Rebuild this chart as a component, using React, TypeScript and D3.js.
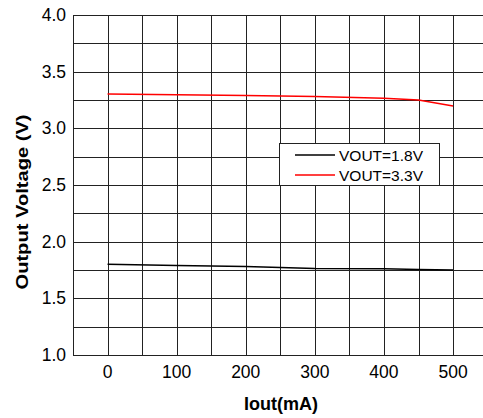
import * as d3 from 'd3';

const currents = [0, 100, 200, 300, 400, 450, 500];
const vout18 = [1.8, 1.79, 1.78, 1.763, 1.76, 1.755, 1.75];
const vout33 = [3.303, 3.297, 3.29, 3.28, 3.265, 3.25, 3.197];
const xTicks = [0, 100, 200, 300, 400, 500];
const yTicks = [1.0, 1.5, 2.0, 2.5, 3.0, 3.5, 4.0];
const seriesNames = ['VOUT=1.8V', 'VOUT=3.3V'];
const seriesColors = ['#000000', '#ff0000'];

export default function App() {
  const W = 483;
  const H = 418;
  const left = 73;
  const top = 15;
  const bottom = 355;
  const x = d3.scaleLinear().domain([-50, 550]).range([left, left + 414.6]);
  const y = d3.scaleLinear().domain([1, 4]).range([bottom, top]);
  const xGrid = d3.range(-50, 551, 50);
  const yGrid = d3.range(1, 4.001, 0.25);
  const line = d3
    .line<[number, number]>()
    .x((d) => x(d[0]))
    .y((d) => y(d[1]));
  const series = [vout18, vout33];
  const font = '"Liberation Sans", Arial, sans-serif';

  return (
    <svg
      width={W}
      height={H}
      style={{ position: 'absolute', left: 0, top: 0 }}
      fontFamily={font}
    >
      <rect width={W} height={H} fill="#fff" />
      {xGrid.map((v) => (
        <line
          key={'xg' + v}
          x1={Math.round(x(v)) + 0.5}
          x2={Math.round(x(v)) + 0.5}
          y1={top}
          y2={bottom}
          stroke="#222"
          strokeWidth={1}
        />
      ))}
      {yGrid.map((v) => (
        <line
          key={'yg' + v}
          x1={left}
          x2={W}
          y1={Math.round(y(v)) + 0.5}
          y2={Math.round(y(v)) + 0.5}
          stroke="#222"
          strokeWidth={1}
        />
      ))}
      {series.map((s, i) => (
        <path
          key={'s' + i}
          d={line(currents.map((c, j) => [c, s[j]]) as [number, number][]) || ''}
          fill="none"
          stroke={seriesColors[i]}
          strokeWidth={1.5}
        />
      ))}
      {xTicks.map((v) => (
        <text key={'xt' + v} x={x(v)} y={378} textAnchor="middle" fontSize={17.5}>
          {v}
        </text>
      ))}
      {yTicks.map((v) => (
        <text
          key={'yt' + v}
          x={66}
          y={y(v) + 6}
          textAnchor="end"
          fontSize={17.5}
        >
          {v.toFixed(1)}
        </text>
      ))}
      <text x={281} y={410} textAnchor="middle" fontSize={18} fontWeight="bold">
        Iout(mA)
      </text>
      <text
        transform={`translate(28,202) rotate(-90)`}
        textAnchor="middle"
        fontSize={17}
        fontWeight="bold"
        textLength={175}
        lengthAdjust="spacingAndGlyphs"
      >
        Output Voltage (V)
      </text>
      <g>
        <rect x={279.5} y={143.5} width={160} height={42} fill="#fff" stroke="#222" />
        {seriesNames.map((n, i) => (
          <g key={n}>
            <line
              x1={295}
              x2={335}
              y1={155 + i * 20}
              y2={155 + i * 20}
              stroke={seriesColors[i]}
              strokeWidth={1.5}
            />
            <text x={339} y={160.5 + i * 20} fontSize={15.5}>
              {n}
            </text>
          </g>
        ))}
      </g>
    </svg>
  );
}
